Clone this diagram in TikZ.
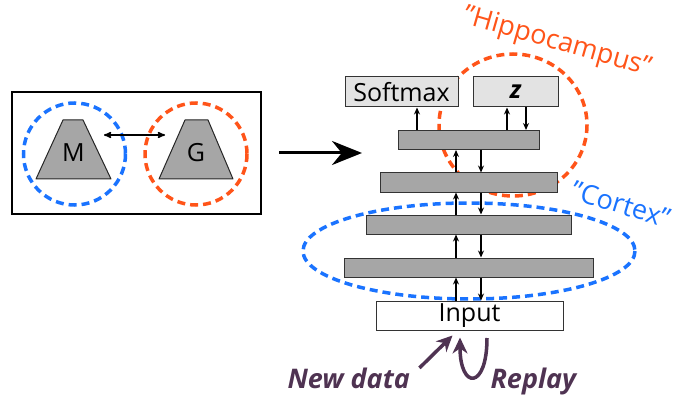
\documentclass[tikz,border=0pt]{standalone}
\usepackage{fontspec}
\setmainfont{Open Sans}
\usetikzlibrary{arrows}
\usetikzlibrary{arrows.meta}
\definecolor{hipporange}{HTML}{FF5419}
\definecolor{cortexblue}{HTML}{1A73FF}
\definecolor{replaypurple}{HTML}{4F3352}
\definecolor{layergray}{HTML}{A6A6A6}
\definecolor{headgray}{HTML}{E3E3E3}
\tikzset{
 layer/.style={draw=black!80, fill=layergray, line width=1pt, minimum height=19, inner sep=0},
 headbox/.style={draw=black!80, fill=headgray, line width=1pt, minimum height=30, inner sep=0},
 trap/.style={draw=black!85, fill=layergray, line width=1pt, line join=round},
 hipdash/.style={hipporange, line width=3.5pt, dash pattern=on 8pt off 5pt},
 cortdash/.style={cortexblue, line width=3.5pt, dash pattern=on 8pt off 5pt},
 flow/.style={black, line width=1.1pt, ->, >={Stealth[length=7pt,width=6pt]}},
 feed/.style={replaypurple, line width=3.5pt, -{Stealth[length=16pt,width=15pt]}},
 bigfont/.style={font=\fontsize{27}{32}\selectfont},
 feedfont/.style={font=\fontsize{27}{32}\selectfont\bfseries\itshape},
}
\begin{document}
\begin{tikzpicture}[x=1pt, y=-1pt, font=\fontsize{25}{30}\selectfont]
\useasboundingbox (0,0) rectangle (674,398);
% left panel
\node[draw, line width=2pt, minimum width=249, minimum height=122, inner sep=0] (frame) at (136.5,153) {};
\draw[cortdash] (74.5,154) circle (51);
\draw[hipdash] (196,154) circle (51);
\draw[trap] (36,179) -- (63,120) -- (83,120) -- (111,179) -- cycle;
\draw[trap] (159,179) -- (185,120) -- (208,120) -- (233,179) -- cycle;
\node (m) at (73.5,152.5) {M};
\node (g) at (196,152.5) {G};
\coordinate (mgl) at (104,135);
\coordinate (mgr) at (165,135);
\draw[black, line width=1.5pt, <->, >=stealth'] (mgl) -- (mgr);
\coordinate (bigtip) at (362,153);
\draw[black, line width=3pt, -{Stealth[length=30pt,width=24pt]}] ([xshift=17]frame.east) -- (bigtip);
% regions behind the stack
\draw[hipdash] (513,125) ellipse [x radius=74, y radius=71];
\draw[cortdash] (469,251) ellipse [x radius=166, y radius=48];
% network stack
\node[headbox, minimum width=113] (soft) at (401.5,92) {Softmax};
\node[headbox, minimum width=85] (zbox) at (515.5,92) {\bfseries\itshape z};
\foreach \n/\y/\w in {l1/140/141, l2/182.5/177, l3/224.5/205, l4/267.5/249}
 \node[layer, minimum width=\w] (\n) at (468.5,\y) {};
\node[draw=black!80, fill=white, line width=1pt, minimum width=187, minimum height=29, inner sep=0] (inp) at (469.5,315.5) {Input};
\coordinate (upx) at (456,0);
\coordinate (dnx) at (481,0);
\foreach \a/\b in {inp/l4, l4/l3, l3/l2, l2/l1} {
 \draw[flow] (\a.north -| upx) -- (\b.south -| upx);
 \draw[flow] (\b.south -| dnx) -- (\a.north -| dnx);
}
\coordinate (smx) at (417,0);
\coordinate (zup) at (507,0);
\coordinate (zdn) at (526,0);
\draw[flow] (l1.north -| smx) -- (soft.south -| smx);
\draw[flow] (l1.north -| zup) -- (zbox.south -| zup);
\draw[flow] (zbox.south -| zdn) -- (l1.north -| zdn);
% labels
\node[bigfont, text=hipporange, rotate=-16] (hiplabel) at (557,43) {"Hippocampus"};
\node[bigfont, text=cortexblue, rotate=-17] (cortlabel) at (621,204) {"Cortex"};
\node[feedfont, text=replaypurple, anchor=base west] (newdata) at (284,388) {New data};
\node[feedfont, text=replaypurple, anchor=base west] (replay) at (487,388) {Replay};
\draw[feed] ([xshift=6,yshift=-4]newdata.north east) -- ([xshift=-17,yshift=-5]inp.south);
\coordinate (rpstart) at (487,338);
\draw[feed] (rpstart) .. controls (487,390) and (460,390) .. ([xshift=-9.5,yshift=-7]inp.south);
\end{tikzpicture}
\end{document}
